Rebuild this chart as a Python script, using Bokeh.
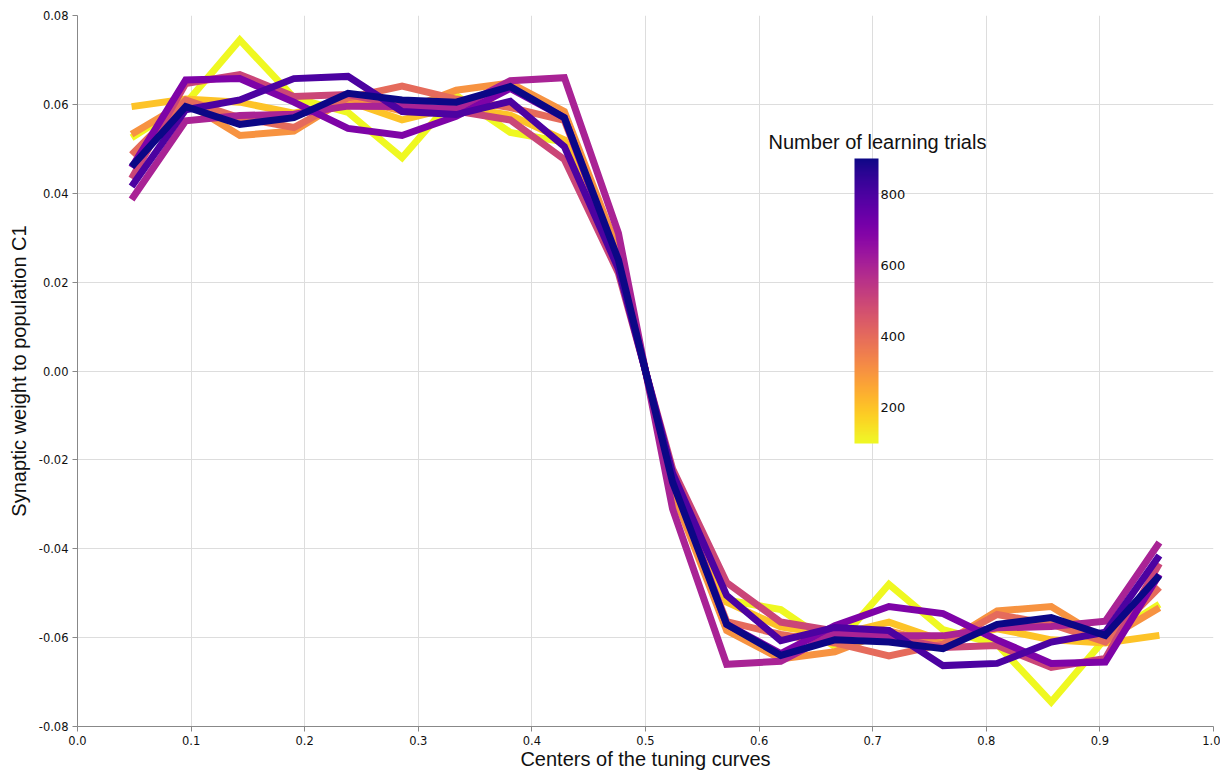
from bokeh.plotting import figure
from bokeh.models import (LinearColorMapper, ColorBar, FixedTicker, PrintfTickFormatter,
                          Range1d, Label)
from bokeh.palettes import Plasma256
from bokeh.embed import file_html
from bokeh.resources import INLINE

# Tuning curve centers (k/21, k = 1..20)
centers = [k / 21 for k in range(1, 21)]

# Number of learning trials for each curve
trials = [100, 200, 300, 400, 500, 600, 700, 800, 900]

# Synaptic weights
w100 = [0.0525, 0.0602, 0.0745, 0.0615, 0.0582, 0.0480, 0.0620, 0.0537, 0.0515, 0.0250,
        -0.0250, -0.0515, -0.0537, -0.0620, -0.0480, -0.0582, -0.0615, -0.0745, -0.0602, -0.0525]
w200 = [0.0595, 0.0612, 0.0605, 0.0580, 0.0607, 0.0565, 0.0595, 0.0576, 0.0520, 0.0260,
        -0.0260, -0.0520, -0.0576, -0.0595, -0.0565, -0.0607, -0.0580, -0.0605, -0.0612, -0.0595]
w300 = [0.0533, 0.0605, 0.0530, 0.0540, 0.0615, 0.0585, 0.0632, 0.0648, 0.0584, 0.0270,
        -0.0270, -0.0584, -0.0648, -0.0632, -0.0585, -0.0615, -0.0540, -0.0530, -0.0605, -0.0533]
w400 = [0.0487, 0.0610, 0.0570, 0.0548, 0.0615, 0.0641, 0.0612, 0.0593, 0.0564, 0.0250,
        -0.0250, -0.0564, -0.0593, -0.0612, -0.0641, -0.0615, -0.0548, -0.0570, -0.0610, -0.0487]
w500 = [0.0433, 0.0647, 0.0667, 0.0618, 0.0622, 0.0598, 0.0585, 0.0565, 0.0476, 0.0220,
        -0.0220, -0.0476, -0.0565, -0.0585, -0.0598, -0.0622, -0.0618, -0.0667, -0.0647, -0.0433]
w600 = [0.0386, 0.0563, 0.0575, 0.0578, 0.0596, 0.0595, 0.0590, 0.0653, 0.0660, 0.0310,
        -0.0310, -0.0660, -0.0653, -0.0590, -0.0595, -0.0596, -0.0578, -0.0575, -0.0563, -0.0386]
w700 = [0.0458, 0.0655, 0.0658, 0.0605, 0.0546, 0.0530, 0.0573, 0.0636, 0.0570, 0.0240,
        -0.0240, -0.0570, -0.0636, -0.0573, -0.0530, -0.0546, -0.0605, -0.0658, -0.0655, -0.0458]
w800 = [0.0415, 0.0588, 0.0610, 0.0658, 0.0663, 0.0584, 0.0577, 0.0607, 0.0505, 0.0230,
        -0.0230, -0.0505, -0.0607, -0.0577, -0.0584, -0.0663, -0.0658, -0.0610, -0.0588, -0.0415]
w900 = [0.0460, 0.0595, 0.0555, 0.0570, 0.0625, 0.0610, 0.0605, 0.0640, 0.0570, 0.0250,
        -0.0250, -0.0570, -0.0640, -0.0605, -0.0610, -0.0625, -0.0570, -0.0555, -0.0595, -0.0460]

weights = [w100, w200, w300, w400, w500, w600, w700, w800, w900]

x_ticks = [0.0, 0.1, 0.2, 0.3, 0.4, 0.5, 0.6, 0.7, 0.8, 0.9, 1.0]
y_ticks = [-0.08, -0.06, -0.04, -0.02, 0.0, 0.02, 0.04, 0.06, 0.08]
cb_ticks = [200, 400, 600, 800]

palette = list(Plasma256[::-1])  # low trials -> yellow, high -> dark blue
mapper = LinearColorMapper(palette=palette, low=100, high=900)


def color_for(v):
    idx = int(round((v - mapper.low) / (mapper.high - mapper.low) * (len(palette) - 1)))
    return palette[max(0, min(len(palette) - 1, idx))]


p = figure(width=1220, height=772, output_backend="svg", toolbar_location=None,
           x_range=Range1d(0, 1), y_range=Range1d(-0.08, 0.08),
           min_border_left=77, min_border_top=15, min_border_right=7, min_border_bottom=46)
p.outline_line_color = None

for t, w in zip(trials, weights):
    p.line(centers, w, line_color=color_for(t), line_width=7, line_join="miter")

TICK_FONT = "DejaVu Sans"
for ax in (p.xaxis[0], p.yaxis[0]):
    ax.axis_line_color = "#888888"
    ax.major_tick_line_color = "#888888"
    ax.major_tick_out = 5
    ax.major_tick_in = 0
    ax.minor_tick_line_color = None
    ax.major_label_text_font = TICK_FONT
    ax.major_label_text_font_size = "11.5px"
    ax.major_label_text_color = "#111111"
    ax.axis_label_text_font = "Liberation Sans"
    ax.axis_label_text_font_size = "20px"
    ax.axis_label_text_font_style = "normal"
    ax.axis_label_text_color = "#111111"
    ax.major_label_standoff = 4

p.xaxis.ticker = FixedTicker(ticks=x_ticks)
p.yaxis.ticker = FixedTicker(ticks=y_ticks)
p.xaxis.formatter = PrintfTickFormatter(format="%.1f")
p.yaxis.formatter = PrintfTickFormatter(format="%.2f")
p.xaxis.axis_label = "Centers of the tuning curves"
p.yaxis.axis_label = "Synaptic weight to population C1"
p.xaxis.axis_label_standoff = 0
p.yaxis.axis_label_standoff = 6

p.xgrid.grid_line_color = "#dddddd"
p.ygrid.grid_line_color = "#dddddd"
p.xgrid.grid_line_width = 1
p.ygrid.grid_line_width = 1

cb = ColorBar(color_mapper=mapper, ticker=FixedTicker(ticks=cb_ticks),
              width=24, height=285, location=(777, 283), padding=0,
              major_tick_line_color=None, label_standoff=2,
              major_label_text_font=TICK_FONT, major_label_text_font_size="13px",
              major_label_text_color="#111111",
              bar_line_color=None, border_line_color=None, background_fill_alpha=0)
p.add_layout(cb, "center")

cb_title = Label(x=0.7042, y=0.0516, text="Number of learning trials",
                 text_font="Liberation Sans", text_font_size="20px",
                 text_align="center", text_baseline="middle", text_color="#111111")
p.add_layout(cb_title)

open("out.html", "w").write(file_html(p, INLINE))
